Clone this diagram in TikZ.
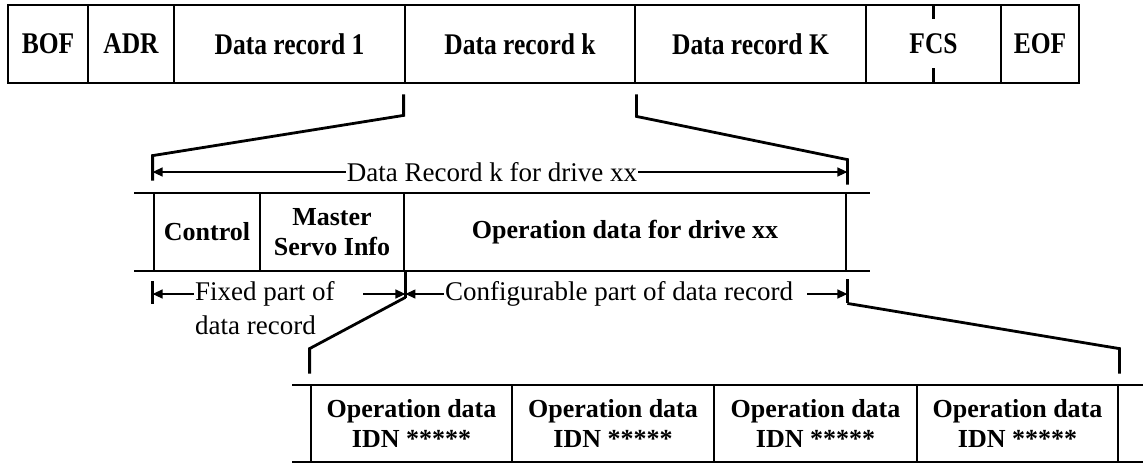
\documentclass[tikz,border=0pt]{standalone}
\usepackage{fontspec}
\setmainfont{Liberation Serif}
\newfontfamily\condserif{Liberation Serif}[FakeStretch=0.85]
\usetikzlibrary{arrows.meta}
\begin{document}
\begin{tikzpicture}[x=1pt,y=-1pt,
  conn/.style={line width=2.8pt},
  cell/.style={draw, line width=2.8pt, rectangle, inner sep=0pt, align=center,
    font=\fontsize{26}{30}\selectfont\bfseries},
  topcell/.style={cell, font=\fontsize{30}{32}\condserif\bfseries, minimum height=78pt},
  midcell/.style={cell, minimum height=78pt},
  botcell/.style={cell, minimum height=77pt},
  dim/.style={line width=1.3pt, -{Triangle[length=10pt,width=9pt]}},
  lbl/.style={font=\fontsize{27}{30}\selectfont, inner sep=1pt}
]
\useasboundingbox (0,0) rectangle (1143,464);

% top frame
\node[topcell, minimum width=80pt]  (bof) at (48,44)    {BOF};
\node[topcell, minimum width=86pt]  (adr) at (131,44)   {ADR};
\node[topcell, minimum width=231pt] (dr1) at (289.5,44) {Data record 1};
\node[topcell, minimum width=230pt] (drk) at (520,44)   {Data record k};
\node[topcell, minimum width=231pt] (drK) at (750.5,44) {Data record K};
\node[topcell, minimum width=135pt] (fcs) at (933.5,44) {FCS};
\node[topcell, minimum width=78pt]  (eof) at (1040,44)  {EOF};
\draw[conn] (fcs.north) ++(0,2) -- ++(0,13);
\draw[conn] (fcs.south) ++(0,-1) -- ++(0,-15);

% middle row
\coordinate (m1a) at (134,193); \coordinate (m1b) at (870,193);
\coordinate (m2a) at (134,271); \coordinate (m2b) at (870,271);
\draw[conn] (m1a) -- (m1b);
\draw[conn] (m2a) -- (m2b);
\node[midcell, minimum width=106pt] (ctl) at (207,232) {Control};
\node[midcell, minimum width=144pt] (msi) at (332,232) {Master\\Servo Info};
\node[midcell, minimum width=442pt] (opd) at (625,232) {Operation data for drive xx};

% connectors top -> middle
\draw[conn] ([yshift=-10pt]drk.south west) -- ([yshift=-31pt]drk.south west)
  -- ([yshift=36pt]ctl.north west) -- ([yshift=11pt]ctl.north west);
\draw[conn] ([yshift=-10pt]drk.south east) -- ([yshift=-32pt]drk.south east)
  -- ([yshift=32pt]opd.north east) -- ([yshift=7pt]opd.north east);

% dimension: whole record
\node[lbl] (drx) at (492,172) {Data Record k for drive xx};
\draw[dim] (drx.west) -- (drx.west -| ctl.west);
\draw[dim] (drx.east) -- (drx.east -| opd.east);

% lower ticks
\draw[conn] ([yshift=-9pt]ctl.south west) -- ([yshift=-32pt]ctl.south west);
\draw[conn] (msi.south east) -- ([yshift=-26pt]msi.south east);
\draw[conn] ([yshift=-7pt]opd.south east) -- ([yshift=-31pt]opd.south east);

% dimension: fixed / configurable
\node[lbl, anchor=west] (fx1) at (194,294) {Fixed part of};
\node[lbl, anchor=west] (fx2) at (194,325) {data record};
\draw[dim] (fx1.west) -- (fx1.west -| ctl.west);
\coordinate (fxe) at (363,294);
\draw[dim] (fxe) -- (fxe -| msi.east);
\node[lbl, anchor=west] (cfg) at (444,294) {Configurable part of data record};
\draw[dim] (cfg.west) -- (cfg.west -| msi.east);
\coordinate (cfe) at (807,294);
\draw[dim] (cfe) -- (cfe -| opd.east);

% bottom row
\coordinate (b1a) at (292,385); \coordinate (b1b) at (1143,385);
\coordinate (b2a) at (292,462); \coordinate (b2b) at (1143,462);
\draw[conn] (b1a) -- (b1b);
\draw[conn] (b2a) -- (b2b);
\node[botcell, minimum width=201pt] (od1) at (411.5,423.5)  {Operation data\\IDN *****};
\node[botcell, minimum width=202pt] (od2) at (613,423.5)    {Operation data\\IDN *****};
\node[botcell, minimum width=203pt] (od3) at (815.5,423.5)  {Operation data\\IDN *****};
\node[botcell, minimum width=201pt] (od4) at (1017.5,423.5) {Operation data\\IDN *****};

% connectors middle -> bottom
\draw[conn] ([yshift=-25pt]msi.south east) -- ([yshift=35pt]od1.north west)
  -- ([yshift=10pt]od1.north west);
\draw[conn] ([yshift=-31pt]opd.south east) -- ([yshift=35pt]od4.north east)
  -- ([yshift=10pt]od4.north east);
\end{tikzpicture}
\end{document}
